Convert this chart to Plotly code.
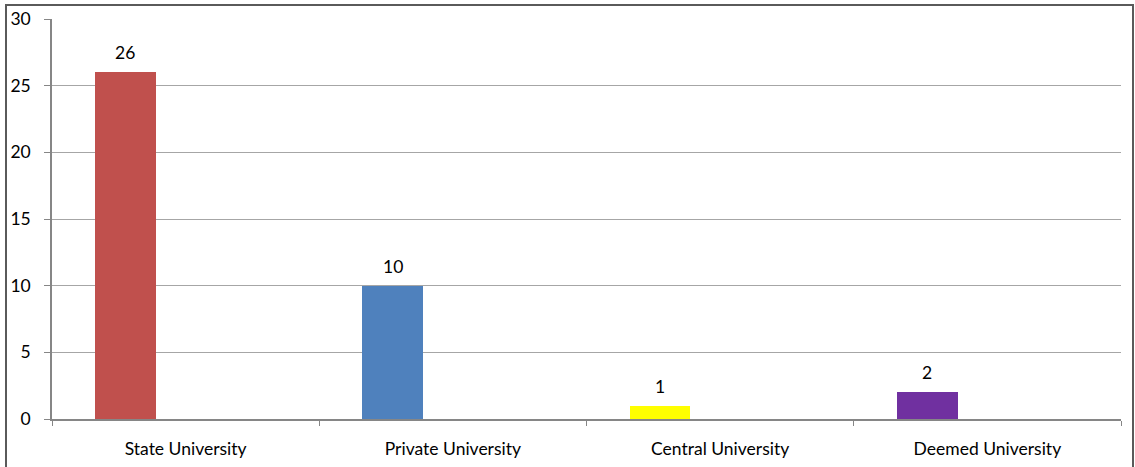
import plotly.graph_objects as go

categories = ["State University", "Private University", "Central University", "Deemed University"]
counts = [26, 10, 1, 2]
bar_colors = ["#C0504D", "#4F81BD", "#FFFF00", "#7030A0"]
y_ticks = [0, 5, 10, 15, 20, 25, 30]

W, H = 1135, 467
L, R, T, B = 52, 14, 19, 48
pw, ph = W - L - R, H - T - B

BAR_WIDTH = 0.228
BAR_OFFSET = -0.339
FONT = dict(family="Lato, Open Sans, sans-serif", size=17.5, color="#000000")

fig = go.Figure(
    go.Bar(
        x=categories,
        y=counts,
        marker=dict(color=bar_colors, line=dict(width=0)),
        width=BAR_WIDTH,
        offset=BAR_OFFSET,
        cliponaxis=False,
        showlegend=False,
    )
)

# value labels centred over each bar
cat_px = pw / len(categories)
shift_px = (BAR_OFFSET + BAR_WIDTH / 2) * cat_px
for c, v in zip(categories, counts):
    fig.add_annotation(
        x=c, y=v, xref="x", yref="y", text=str(v), showarrow=False,
        xanchor="center", yanchor="bottom", xshift=shift_px, yshift=7,
        font=FONT,
    )

# outer chart frame
fig.add_shape(
    type="rect", xref="paper", yref="paper",
    x0=(6 - L) / pw, x1=(1133 - L) / pw,
    y0=-0.3, y1=(H - B - 5) / ph,
    line=dict(color="#5a5a5a", width=2), fillcolor="rgba(0,0,0,0)", layer="below",
)

fig.update_layout(
    width=W, height=H,
    margin=dict(l=L, r=R, t=T, b=B, pad=0, autoexpand=False),
    paper_bgcolor="white", plot_bgcolor="white",
    font=FONT,
    bargap=0,
)
fig.update_xaxes(
    type="category", automargin=False,
    showline=True, linecolor="#868686", linewidth=1.5,
    ticks="outside", ticklen=5, tickcolor="#868686", tickson="boundaries",
    ticklabelstandoff=13,
    showgrid=False,
)
fig.update_yaxes(
    range=[0, 30], tickvals=y_ticks, automargin=False,
    showline=True, linecolor="#868686", linewidth=1.5,
    ticks="outside", ticklen=6, tickcolor="#868686",
    ticklabelstandoff=10,
    showgrid=True, gridcolor="#a6a6a6", gridwidth=1,
    zeroline=False,
)

fig.write_html("out.html")
